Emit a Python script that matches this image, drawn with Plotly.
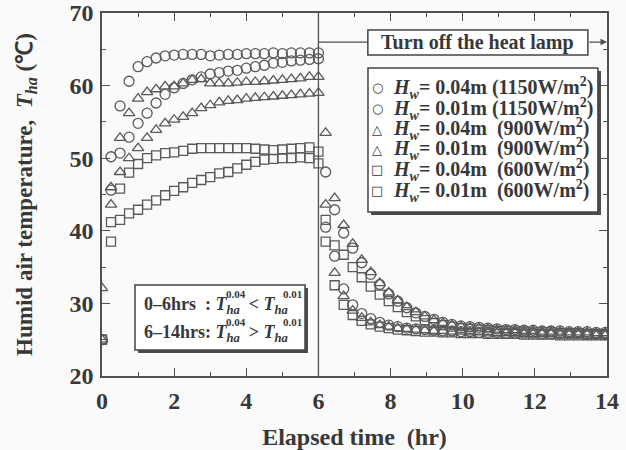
import plotly.graph_objects as go

# ---- data ----
t_heat = [0, 0.25, 0.5, 0.75, 1.0, 1.25, 1.5, 1.75, 2.0, 2.25, 2.5, 2.75, 3.0,
          3.25, 3.5, 3.75, 4.0, 4.25, 4.5, 4.75, 5.0, 5.25, 5.5, 5.75, 6.0]
t_cool = [6.2, 6.45, 6.7, 6.95, 7.2, 7.45, 7.7, 7.95, 8.2, 8.45, 8.7, 8.95, 9.2,
          9.45, 9.7, 9.95, 10.2, 10.45, 10.7, 10.95, 11.2, 11.45, 11.7, 11.95,
          12.2, 12.45, 12.7, 12.95, 13.2, 13.45, 13.7, 13.95]

# Hw = 0.04 m, 1150 W/m2
b_heat = [25, 45.6, 50.7, 52.9, 54.8, 56.2, 57.6, 58.8, 59.7, 60.3, 60.8, 61.2, 61.6,
          61.8, 62.0, 62.1, 62.4, 62.6, 62.8, 63.1, 63.2, 63.4, 63.5, 63.6, 63.7]
b_cool = [48.1, 42.9, 39.7, 37.6, 35.6, 34.0, 32.6, 31.3, 30.3, 29.4, 28.7, 28.2, 27.8,
          27.4, 27.1, 26.9, 26.8, 26.7, 26.6, 26.5, 26.4, 26.4, 26.3, 26.3, 26.2, 26.2,
          26.2, 26.1, 26.1, 26.1, 26.0, 26.0]
# Hw = 0.01 m, 1150 W/m2
a_heat = [25, 50.2, 57.2, 60.6, 62.6, 63.3, 63.8, 64.1, 64.2, 64.3, 64.3, 64.3, 64.1,
          64.2, 64.3, 64.3, 64.4, 64.4, 64.4, 64.5, 64.4, 64.5, 64.5, 64.5, 64.5]
a_cool = [40.5, 36.5, 32.0, 29.8, 28.6, 27.9, 27.4, 27.0, 26.8, 26.6, 26.5, 26.4, 26.3,
          26.2, 26.2, 26.1, 26.1, 26.0, 26.0, 26.0, 25.9, 25.9, 25.9, 25.9, 25.8, 25.8,
          25.8, 25.8, 25.8, 25.7, 25.7, 25.7]
# Hw = 0.04 m, 900 W/m2
d_heat = [32.1, 43.6, 48.1, 50.0, 51.4, 52.8, 53.9, 54.8, 55.3, 55.7, 56.2, 56.9, 57.3,
          57.7, 57.9, 58.0, 58.2, 58.3, 58.4, 58.5, 58.6, 58.7, 58.8, 58.9, 59.0]
d_cool = [53.5, 44.5, 40.8, 38.2, 36.0, 34.3, 32.8, 31.5, 30.4, 29.5, 28.8, 28.2, 27.7,
          27.3, 27.0, 26.8, 26.7, 26.6, 26.5, 26.4, 26.3, 26.3, 26.2, 26.2, 26.1, 26.1,
          26.1, 26.0, 26.0, 26.0, 25.9, 25.9]
# Hw = 0.01 m, 900 W/m2
c_heat = [25, 46.0, 52.8, 56.2, 58.2, 59.1, 59.5, 59.9, 59.9, 60.3, 60.8, 60.9, 60.3,
          60.3, 60.3, 60.4, 60.5, 60.5, 60.6, 60.7, 60.8, 60.9, 61.0, 61.2, 61.2]
c_cool = [43.6, 34.2, 31.0, 29.0, 28.0, 27.4, 27.0, 26.8, 26.6, 26.5, 26.4, 26.3, 26.2,
          26.2, 26.1, 26.1, 26.0, 26.0, 26.0, 25.9, 25.9, 25.9, 25.8, 25.8, 25.8, 25.8,
          25.7, 25.7, 25.7, 25.7, 25.6, 25.6]
# Hw = 0.04 m, 600 W/m2
f_heat = [25, 38.5, 41.5, 42.4, 42.9, 43.6, 44.2, 44.9, 45.5, 46.0, 46.6, 47.0, 47.4,
          47.9, 48.1, 48.6, 49.1, 49.5, 49.8, 49.9, 50.0, 50.0, 50.1, 50.0, 49.3]
f_cool = [41.5, 38.0, 36.7, 35.0, 33.6, 32.3, 31.2, 30.3, 29.5, 28.8, 28.2, 27.7, 27.3,
          27.0, 26.8, 26.6, 26.5, 26.4, 26.3, 26.2, 26.2, 26.1, 26.1, 26.0, 26.0, 26.0,
          25.9, 25.9, 25.9, 25.8, 25.8, 25.8]
# Hw = 0.01 m, 600 W/m2
e_heat = [25, 41.2, 45.8, 48.0, 49.2, 50.0, 50.4, 50.7, 50.8, 51.0, 51.3, 51.4, 51.4,
          51.4, 51.4, 51.4, 51.4, 51.3, 51.2, 51.1, 51.2, 51.3, 51.4, 51.5, 50.9]
e_cool = [38.5, 32.5, 29.8, 28.4, 27.6, 27.1, 26.8, 26.6, 26.4, 26.3, 26.2, 26.1, 26.1,
          26.0, 26.0, 25.9, 25.9, 25.9, 25.8, 25.8, 25.8, 25.8, 25.7, 25.7, 25.7, 25.7,
          25.6, 25.6, 25.6, 25.6, 25.6, 25.6]

series_names = [
    "<i>H</i><sub><i>w</i></sub>= 0.04m (1150W/m<sup>2</sup>)",
    "<i>H</i><sub><i>w</i></sub>= 0.01m (1150W/m<sup>2</sup>)",
    "<i>H</i><sub><i>w</i></sub>= 0.04m  (900W/m<sup>2</sup>)",
    "<i>H</i><sub><i>w</i></sub>= 0.01m  (900W/m<sup>2</sup>)",
    "<i>H</i><sub><i>w</i></sub>= 0.04m  (600W/m<sup>2</sup>)",
    "<i>H</i><sub><i>w</i></sub>= 0.01m  (600W/m<sup>2</sup>)",
]
legend_glyphs = ["○", "○", "△", "△", "□", "□"]
series_heat = [b_heat, a_heat, d_heat, c_heat, f_heat, e_heat]
series_cool = [b_cool, a_cool, d_cool, c_cool, f_cool, e_cool]
series_symbols = ["circle-open", "circle-open", "triangle-up-open",
                  "triangle-up-open", "square-open", "square-open"]
series_sizes = [10, 10, 10, 10, 9, 9]

# ---- styling ----
FONT = "Liberation Serif"
INK = "#383838"
MK = "#5a5a5a"
AX = "#505050"
BG = "#fafafa"

fig = go.Figure()
for name, h, c, sym, sz in zip(series_names, series_heat, series_cool,
                               series_symbols, series_sizes):
    fig.add_trace(go.Scatter(
        x=t_heat + t_cool, y=h + c, mode="markers", name=name, showlegend=False,
        marker=dict(symbol=sym, size=sz, color=MK, line=dict(width=1.3, color=MK)),
    ))

axis_common = dict(
    showline=True, linecolor=AX, linewidth=1.5, mirror="ticks",
    ticks="inside", ticklen=8, tickwidth=1.4, tickcolor=AX,
    showgrid=False, zeroline=False, ticklabeloverflow="allow",
    tickfont=dict(family=FONT, size=24, color=INK, weight="bold"),
)

fig.update_layout(
    width=626, height=450,
    margin=dict(l=102, r=19, t=13, b=74, autoexpand=False),
    paper_bgcolor=BG, plot_bgcolor=BG,
    font=dict(family=FONT, color=INK, weight="bold"),
    xaxis=dict(range=[0, 14], dtick=2, tick0=0, ticklabelstandoff=2,
               minor=dict(dtick=1, ticks="inside", ticklen=4, tickcolor=AX),
               title=dict(text="Elapsed time  (hr)", standoff=24,
                          font=dict(family=FONT, size=24, color=INK, weight="bold")),
               **axis_common),
    yaxis=dict(range=[20, 70], dtick=10, tick0=20, ticklabelstandoff=2,
               minor=dict(dtick=5, ticks="inside", ticklen=4, tickcolor=AX),
               title=dict(text="Humid air temperature,  <i>T</i><sub><i>ha</i></sub> (℃)",
                          standoff=30,
                          font=dict(family=FONT, size=23, color=INK, weight="bold")),
               **axis_common),
    showlegend=False,
)

# vertical line at 6 hr and connector to the label box
fig.add_shape(type="line", x0=6, x1=6, y0=20, y1=70, xref="x", yref="y",
              line=dict(color=AX, width=1.3))
fig.add_shape(type="line", x0=6, x1=7.37, y0=66, y1=66, xref="x", yref="y",
              line=dict(color=AX, width=1.3))
fig.add_shape(type="rect", x0=7.37, x1=13.47, y0=64.2, y1=67.66, xref="x", yref="y",
              fillcolor="white", line=dict(color="#444", width=1.5), layer="above")
fig.add_annotation(x=10.42, y=65.93, xref="x", yref="y", showarrow=False,
                   text="Turn off the heat lamp", yanchor="middle",
                   font=dict(family=FONT, size=20, color=INK, weight="bold"))
fig.add_annotation(x=14, y=66, ax=13.47, ay=66, xref="x", yref="y",
                   axref="x", ayref="y", text="", showarrow=True,
                   arrowhead=2, arrowsize=1, arrowwidth=1.3, arrowcolor=AX)

# custom legend box (paper coords), with drop shadow
fig.add_shape(type="rect", xref="paper", yref="paper",
              x0=0.5327, x1=0.9881, y0=0.4435, y1=0.8402,
              fillcolor="#4a4a4a", line=dict(width=0), layer="above")
fig.add_shape(type="rect", xref="paper", yref="paper",
              x0=0.5267, x1=0.982, y0=0.4518, y1=0.8485,
              fillcolor="white", line=dict(color="#444", width=1.5), layer="above")
legend_y = [0.7934, 0.7369, 0.6804, 0.6240, 0.5675, 0.5110]
for gy, glyph, name in zip(legend_y, legend_glyphs, series_names):
    fig.add_annotation(x=0.545, y=gy, xref="paper", yref="paper", showarrow=False,
                       text=glyph, xanchor="center", yanchor="middle",
                       font=dict(family="DejaVu Sans", size=13, color=INK, weight="normal"))
    fig.add_annotation(x=0.573, y=gy, xref="paper", yref="paper", showarrow=False,
                       text=name, xanchor="left", yanchor="middle",
                       font=dict(family=FONT, size=20, color=INK, weight="bold"))

# lower-left box with shadow
fig.add_shape(type="rect", xref="x", yref="y",
              x0=1.0, x1=5.71, y0=23.17, y1=32.12,
              fillcolor="#4a4a4a", line=dict(width=0), layer="above")
fig.add_shape(type="rect", xref="x", yref="y",
              x0=0.915, x1=5.628, y0=23.58, y1=32.53,
              fillcolor="white", line=dict(color="#444", width=1.5), layer="above")
box_lines = [
    ("0–6hrs  : <i>T</i><sub><i>ha</i></sub>  &lt; <i>T</i><sub><i>ha</i></sub>", 29.78),
    ("6–14hrs: <i>T</i><sub><i>ha</i></sub>  &gt; <i>T</i><sub><i>ha</i></sub>", 25.92),
]
for txt, yy in box_lines:
    fig.add_annotation(x=1.1, y=yy, xref="x", yref="y", showarrow=False,
                       xanchor="left", yanchor="middle", text=txt,
                       font=dict(family=FONT, size=18, color=INK, weight="bold"))
    for sx, stxt in [(3.72, "0.04"), (5.28, "0.01")]:
        fig.add_annotation(x=sx, y=yy + 1.45, xref="x", yref="y", showarrow=False,
                           xanchor="center", yanchor="middle", text=stxt,
                           font=dict(family=FONT, size=11, color=INK, weight="bold"))

# remove the default 8px page margin so the 626x450 figure fills the window
fig.write_html("out.html", config={"displayModeBar": False},
               post_script="document.body.style.margin='0';")
